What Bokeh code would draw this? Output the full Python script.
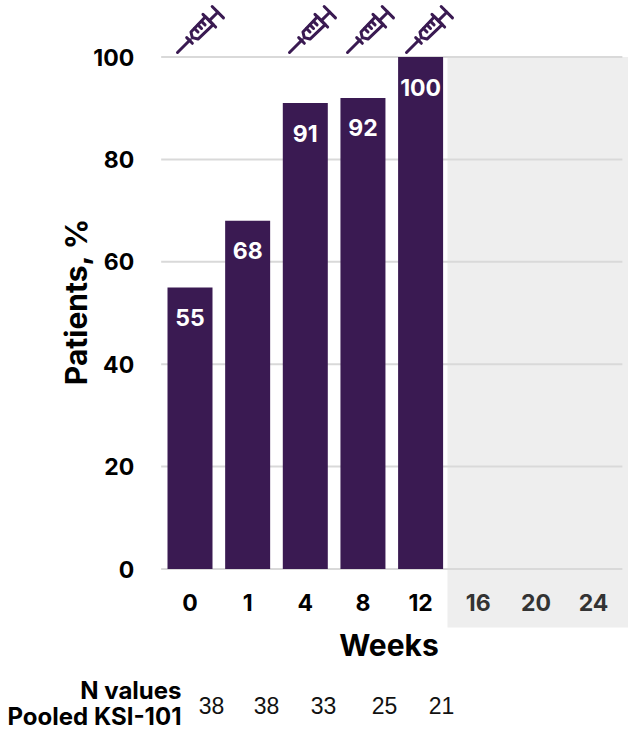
import math

from bokeh.core.properties import value
from bokeh.embed import file_html
from bokeh.models import FixedTicker, LinearAxis, Range1d
from bokeh.plotting import figure
from bokeh.resources import INLINE

week_labels = ["0", "1", "4", "8", "12", "16", "20", "24"]
patients_pct = [55, 68, 91, 92, 100]
n_values = [38, 38, 33, 25, 21]
y_ticks = [0, 20, 40, 60, 80, 100]

PURPLE = "#3a1a52"
FONT = "Inter"
W, H = 628, 731
X0, DX = 189.5, 57.65      # pixel centre of first category, pixels per category
Y0, DY = 568.5, 5.12       # pixel row of 0 %, pixels per percentage point


def px(x):
    return (x - X0) / DX


def py(y):
    return (Y0 - y) / DY


p = figure(width=W, height=H, output_backend="svg", toolbar_location=None,
           x_range=Range1d(px(0), px(W)), y_range=Range1d(py(H), py(0)),
           min_border=0, min_border_left=0, min_border_right=0,
           min_border_top=0, min_border_bottom=0, outline_line_color=None,
           x_axis_type=None, y_axis_type=None, background_fill_color="white")
p.grid.visible = False

# shaded follow-up region behind the grid lines
p.quad(left=[px(447)], right=[px(W)], bottom=[py(627)], top=[100],
       fill_color="#eeeeee", line_color=None, level="image")

# horizontal guides stop at the end of the category band
p.segment(x0=[-0.5] * len(y_ticks), x1=[7.5] * len(y_ticks), y0=y_ticks, y1=y_ticks,
          line_color="#d9d9d9", line_width=2, level="underlay")

idx = list(range(len(patients_pct)))
p.vbar(x=idx, top=patients_pct, bottom=0, width=45 / DX,
       fill_color=PURPLE, line_color=None)

p.text(x=idx, y=[v - 30 / DY for v in patients_pct],
       text=[str(v) for v in patients_pct], text_color="white",
       text_font=value(FONT), text_font_style="bold", text_font_size="23px",
       text_align="center", text_baseline="middle")


def x_axis(ticks, color, label=None):
    ax = LinearAxis(ticker=FixedTicker(ticks=ticks), fixed_location=0,
                    major_label_overrides={i: week_labels[i] for i in ticks},
                    axis_line_color=None, major_tick_line_color=None,
                    minor_tick_line_color=None, major_tick_out=0,
                    major_label_standoff=25, major_label_text_color=color,
                    major_label_text_font=FONT, major_label_text_font_style="bold",
                    major_label_text_font_size="23px", bounds=(-0.5, 7.4))
    if label:
        ax.axis_label = label
        ax.axis_label_text_font = FONT
        ax.axis_label_text_font_style = "bold"
        ax.axis_label_text_font_size = "30px"
        ax.axis_label_text_color = "black"
        ax.axis_label_standoff = 12
    p.add_layout(ax, "below")


x_axis([0, 1, 2, 3, 4], "black", "Weeks")
x_axis([5, 6, 7], "#333333")

y_axis = LinearAxis(ticker=FixedTicker(ticks=y_ticks), fixed_location=-0.5,
                    axis_line_color=None, major_tick_line_color=None,
                    minor_tick_line_color=None, major_tick_out=0,
                    major_label_standoff=27, major_label_text_color="black",
                    major_label_text_font=FONT, major_label_text_font_style="bold",
                    major_label_text_font_size="23px", bounds=(0, 104.5),
                    axis_label="Patients, %", axis_label_text_font=FONT,
                    axis_label_text_font_style="bold", axis_label_text_font_size="30px",
                    axis_label_text_color="black", axis_label_standoff=-3)
p.add_layout(y_axis, "left")

# n-per-visit row beneath the chart
n_x_px = [211, 266, 323, 384, 441]
p.text(x=[px(v) for v in n_x_px], y=[py(705)] * 5, text=[str(v) for v in n_values],
       text_font=value("Liberation Sans"), text_font_size="23px", text_color="#111111",
       text_align="center", text_baseline="middle")
p.text(x=[px(181), px(181)], y=[py(690), py(716)], text=["N values", "Pooled KSI-101"],
       text_font=value(FONT), text_font_style="bold", text_font_size="24px",
       text_color="black", text_align="right", text_baseline="middle")


def along(t, s):
    """Point t pixels along the syringe axis and s pixels across it, from the needle tip."""
    k = math.sqrt(0.5)
    return ((t + s) * k, (-t + s) * k)


# syringe drawn as strokes in axis coordinates
syringe = [
    [(0, 0), (18, 0)],
    [(17, -4), (17, 4)],
    [(21, 0), (24, -5), (45, -5.5), (45, 5.5), (24, 5), (21, 0)],
    [(45, -9), (45, 9)],
    [(45, 0), (57, 0)],
    [(57, -8), (57, 8)],
    [(29, -5), (29, 0)],
    [(34, -5), (34, 0)],
    [(39, -5), (39, 0)],
]
needle_tip_px = [(177, 52), (289, 52), (347, 52), (406, 52)]

xs, ys = [], []
for tx, ty in needle_tip_px:
    for stroke in syringe:
        pts = [along(t, s) for t, s in stroke]
        xs.append([px(tx + a) for a, _ in pts])
        ys.append([py(ty + b) for _, b in pts])
p.multi_line(xs, ys, line_color=PURPLE, line_width=3, line_cap="round", line_join="round")

open("out.html", "w").write(file_html(p, INLINE))
